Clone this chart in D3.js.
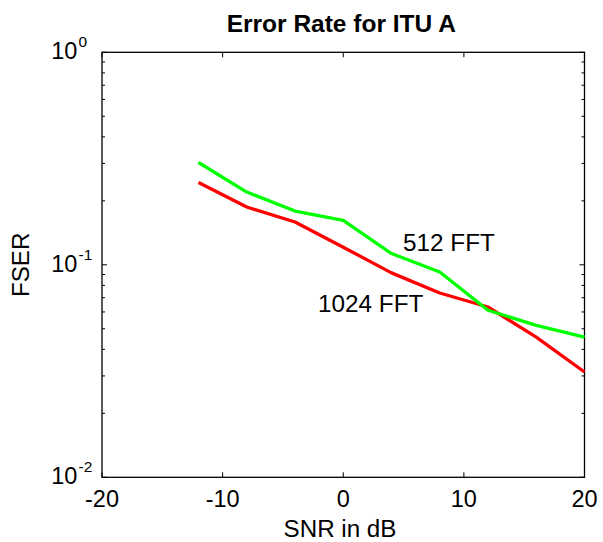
<!DOCTYPE html>
<html>
<head>
<meta charset="utf-8">
<script src="https://cdn.jsdelivr.net/npm/d3@7"></script>
<style>
body { margin: 0; background: #fff; }
text { font-family: "Liberation Sans", Arial, sans-serif; fill: #000; }
</style>
</head>
<body>
<svg id="chart" width="603" height="542"></svg>
<script>
const snr = [-12, -8, -4, 0, 4, 8, 12, 16, 20];
const fft512 = [0.303, 0.220, 0.179, 0.162, 0.113, 0.0925, 0.0611, 0.0519, 0.0457];
const fft1024 = [0.244, 0.187, 0.159, 0.121, 0.0916, 0.0737, 0.0633, 0.0457, 0.0313];
const xTicks = [-20, -10, 0, 10, 20];
const yTicks = [0.01, 0.1, 1];
const yExps = ["-2", "-1", "0"];

const svg = d3.select("#chart");
const L = 102, R = 584.5, T = 52.3, B = 477.3;
const x = d3.scaleLinear().domain([-20, 20]).range([L, R]);
const y = d3.scaleLog().domain([0.01, 1]).range([B, T]);

// frame
const g = svg.append("g");
g.append("rect").attr("x", L).attr("y", T).attr("width", R - L).attr("height", B - T)
  .attr("fill", "none").attr("stroke", "#000").attr("stroke-width", 1.3);

// x ticks (bottom & top, inward)
xTicks.forEach(v => {
  g.append("line").attr("x1", x(v)).attr("x2", x(v)).attr("y1", B).attr("y2", B - 5).attr("stroke", "#000");
  g.append("line").attr("x1", x(v)).attr("x2", x(v)).attr("y1", T).attr("y2", T + 5).attr("stroke", "#000");
  g.append("text").attr("x", x(v)).attr("y", 507).attr("text-anchor", "middle")
    .attr("font-size", 23.5).text(v);
});

// y ticks major & minor
const minors = [];
for (let d = 0.01; d < 1; d *= 10) for (let m = 2; m <= 9; m++) minors.push(d * m);
minors.forEach(v => {
  g.append("line").attr("x1", L).attr("x2", L + 3).attr("y1", y(v)).attr("y2", y(v)).attr("stroke", "#000");
  g.append("line").attr("x1", R).attr("x2", R - 3).attr("y1", y(v)).attr("y2", y(v)).attr("stroke", "#000");
});
yTicks.forEach((v, i) => {
  g.append("line").attr("x1", L).attr("x2", L + 5).attr("y1", y(v)).attr("y2", y(v)).attr("stroke", "#000");
  g.append("line").attr("x1", R).attr("x2", R - 5).attr("y1", y(v)).attr("y2", y(v)).attr("stroke", "#000");
  g.append("text").attr("x", 77.3).attr("y", y(v) + 6.8).attr("text-anchor", "end")
    .attr("font-size", 23.5).text("10");
  g.append("text").attr("x", 78.5).attr("y", y(v) - 5).attr("font-size", 15.5).text(yExps[i]);
});

// lines
const line = d3.line().x(d => x(d[0])).y(d => y(d[1]));
svg.append("path").datum(snr.map((s, i) => [s, fft1024[i]])).attr("d", line)
  .attr("fill", "none").attr("stroke", "#ff0000").attr("stroke-width", 3.3).attr("stroke-linejoin", "round");
svg.append("path").datum(snr.map((s, i) => [s, fft512[i]])).attr("d", line)
  .attr("fill", "none").attr("stroke", "#00ff00").attr("stroke-width", 3.3).attr("stroke-linejoin", "round");

// annotations
svg.append("text").attr("x", 403).attr("y", 250.7).attr("font-size", 24.3).text("512 FFT");
svg.append("text").attr("x", 318).attr("y", 311.7).attr("font-size", 24.3).text("1024 FFT");

// title & labels
svg.append("text").attr("x", (L + R) / 2 - 2).attr("y", 31.7).attr("text-anchor", "middle")
  .attr("font-size", 24.5).attr("font-weight", "bold").text("Error Rate for ITU A");
svg.append("text").attr("x", 340).attr("y", 537).attr("text-anchor", "middle")
  .attr("font-size", 24.2).text("SNR in dB");
svg.append("text").attr("transform", `translate(29,${(T + B) / 2}) rotate(-90)`)
  .attr("text-anchor", "middle").attr("font-size", 24.2).text("FSER");
</script>
</body>
</html>
